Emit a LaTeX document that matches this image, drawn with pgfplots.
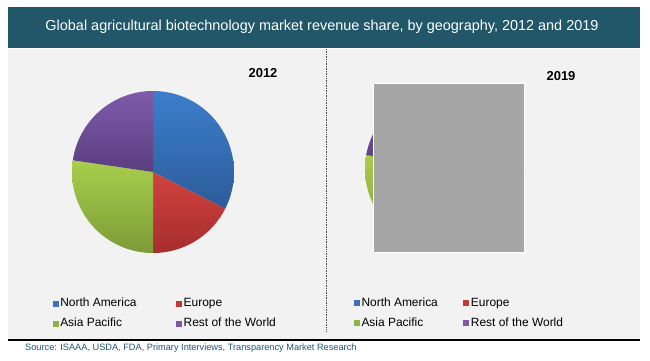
\documentclass[border=0pt]{standalone}
\usepackage{pgfplots}
\pgfplotsset{compat=1.18}
\usepgfplotslibrary{polar}
\usepackage{fontspec}
\setmainfont{Liberation Sans}

\definecolor{titlebar}{HTML}{215768}
\definecolor{panel}{HTML}{F2F2F2}
\definecolor{naT}{HTML}{3C7ECC}\definecolor{naB}{HTML}{2C5C9A}
\definecolor{euT}{HTML}{D2433F}\definecolor{euB}{HTML}{A52D2D}
\definecolor{apT}{HTML}{A8CE4C}\definecolor{apB}{HTML}{7D9B37}
\definecolor{rwT}{HTML}{7F5BAB}\definecolor{rwB}{HTML}{5A3E7E}
\definecolor{lgNA}{HTML}{3E6FC0}
\definecolor{lgEU}{HTML}{C23A34}
\definecolor{lgAP}{HTML}{8DB43E}
\definecolor{lgRW}{HTML}{7B59A3}
\definecolor{srcblue}{HTML}{1F5575}

\pgfplotsset{
  pie/.style={
    hide axis, scale only axis, anchor=center, clip=false,
    ymin=0, ymax=1, samples=72,
    legend columns=2,
    legend image code/.code={\fill[##1] (0bp,-3bp) rectangle (6bp,3bp);},
    legend cell align=left,
  },
  slice/.style={forget plot, draw=none},
}

\begin{document}
\begin{tikzpicture}[x=1bp,y=1bp]
\useasboundingbox (0,0) rectangle (650,360);
\fill[white] (0,0) rectangle (650,360);
% title bar
\fill[titlebar] (8,312) rectangle (640,353);
\node[text=white, font=\fontsize{14.5}{17}\selectfont] at (322,333) {Global agricultural biotechnology market revenue share, by geography, 2012 and 2019};
% panel
\fill[panel] (8,21) rectangle (640,311);
\draw[black, line width=2bp] (8,20) -- (640,20);
\draw[black!70, densely dotted, line width=0.7bp] (326,311) -- (326,28);
% source
\node[anchor=west, text=srcblue, font=\fontsize{9.25}{11}\selectfont, inner sep=0pt] at (25,11.5) {Source: ISAAA, USDA, FDA, Primary Interviews, Transparency Market Research};
% years
\node[font=\bfseries\fontsize{13}{15}\selectfont] at (263,287) {2012};
\node[font=\bfseries\fontsize{13}{15}\selectfont] at (561,284) {2019};

% 2012 pie: North America 32.5%, Europe 17.5%, Asia Pacific 27.3%, Rest of the World 22.7%
\begin{polaraxis}[pie, at={(153bp,188bp)}, width=162bp, height=162bp,
  legend style={draw=none, fill=none, at={(axis description cs:-0.12,-0.266)}, anchor=north west,
    font=\fontsize{12}{14}\selectfont, inner sep=0pt, row sep=5.6bp,
    nodes={inner sep=1.5bp, text height=9bp, text depth=2.5bp},
    /tikz/every even column/.append style={column sep=38bp}}]
  \addplot[slice, top color=naT, bottom color=naB, domain=-27:90] {1} -- (0,0) -- cycle;
  \addplot[slice, top color=euT, bottom color=euB, domain=-90:-27] {1} -- (0,0) -- cycle;
  \addplot[slice, top color=apT, bottom color=apB, domain=171.7:270] {1} -- (0,0) -- cycle;
  \addplot[slice, top color=rwT, bottom color=rwB, domain=90:171.7] {1} -- (0,0) -- cycle;
  \addlegendimage{draw=none, fill=lgNA}\addlegendentry{North America}
  \addlegendimage{draw=none, fill=lgEU}\addlegendentry{Europe}
  \addlegendimage{draw=none, fill=lgAP}\addlegendentry{Asia Pacific}
  \addlegendimage{draw=none, fill=lgRW}\addlegendentry{Rest of the World}
\end{polaraxis}

% 2019 pie: North America 31.5%, Europe 17.0%, Asia Pacific 29.3%, Rest of the World 22.2%
\begin{polaraxis}[pie, at={(445bp,191bp)}, width=160bp, height=160bp,
  legend style={draw=none, fill=none, at={(axis description cs:-0.07,-0.29)}, anchor=north west,
    font=\fontsize{12}{14}\selectfont, inner sep=0pt, row sep=5.6bp,
    nodes={inner sep=1.5bp, text height=9bp, text depth=2.5bp},
    /tikz/every even column/.append style={column sep=24bp}}]
  \addplot[slice, top color=naT, bottom color=naB, domain=-23.4:90] {1} -- (0,0) -- cycle;
  \addplot[slice, top color=euT, bottom color=euB, domain=-84.6:-23.4] {1} -- (0,0) -- cycle;
  \addplot[slice, top color=apT, bottom color=apB, domain=169.9:275.4] {1} -- (0,0) -- cycle;
  \addplot[slice, top color=rwT, bottom color=rwB, domain=90:169.9] {1} -- (0,0) -- cycle;
  \addlegendimage{draw=none, fill=lgNA}\addlegendentry{North America}
  \addlegendimage{draw=none, fill=lgEU}\addlegendentry{Europe}
  \addlegendimage{draw=none, fill=lgAP}\addlegendentry{Asia Pacific}
  \addlegendimage{draw=none, fill=lgRW}\addlegendentry{Rest of the World}
\end{polaraxis}
% image placeholder covering the 2019 pie
\fill[fill=black!35, draw=white, line width=0.8bp] (373,108) rectangle (524,277);
\end{tikzpicture}
\end{document}
